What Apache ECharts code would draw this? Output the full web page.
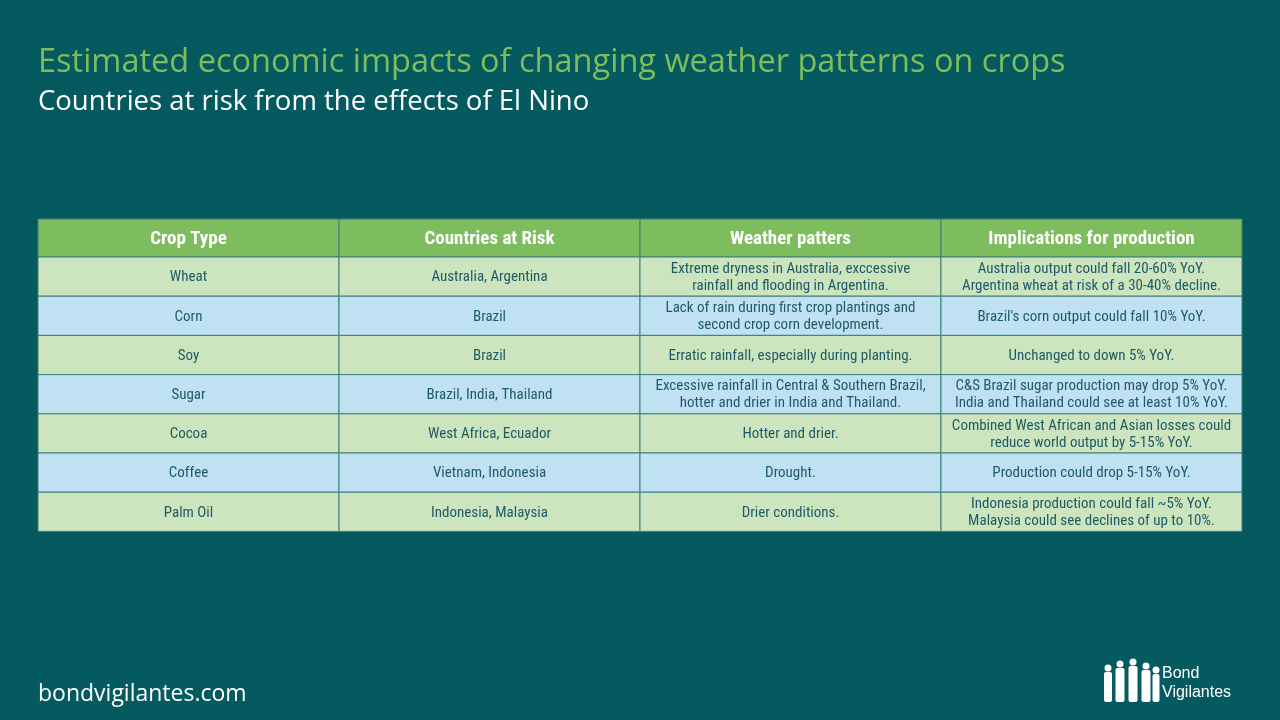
<!DOCTYPE html>
<html>
<head>
<meta charset="utf-8">
<script src="https://cdn.jsdelivr.net/npm/echarts@6/dist/echarts.min.js"></script>
<style>
  html, body { margin: 0; padding: 0; background: #055a5f; }
  #container { width: 1280px; height: 720px; }
</style>
</head>
<body>
<div id="container"></div>
<script>
// 表格数据
const header = ['Crop Type', 'Countries at Risk', 'Weather patters', 'Implications for production'];
const rows = [
  ['Wheat', 'Australia, Argentina', 'Extreme dryness in Australia, exccessive\nrainfall and flooding in Argentina.', 'Australia output could fall 20-60% YoY.\nArgentina wheat at risk of a 30-40% decline.'],
  ['Corn', 'Brazil', 'Lack of rain during first crop plantings and\nsecond crop corn development.', "Brazil's corn output could fall 10% YoY."],
  ['Soy', 'Brazil', 'Erratic rainfall, especially during planting.', 'Unchanged to down 5% YoY.'],
  ['Sugar', 'Brazil, India, Thailand', 'Excessive rainfall in Central & Southern Brazil,\nhotter and drier in India and Thailand.', 'C&S Brazil sugar production may drop 5% YoY.\nIndia and Thailand could see at least 10% YoY.'],
  ['Cocoa', 'West Africa, Ecuador', 'Hotter and drier.', 'Combined West African and Asian losses could\nreduce world output by 5-15% YoY.'],
  ['Coffee', 'Vietnam, Indonesia', 'Drought.', 'Production could drop 5-15% YoY.'],
  ['Palm Oil', 'Indonesia, Malaysia', 'Drier conditions.', 'Indonesia production could fall ~5% YoY.\nMalaysia could see declines of up to 10%.']
];

const tableLeft = 38, tableTop = 219, colW = 301, headH = 38, rowH = 39.2;
const font = '"Liberation Sans Narrow", "Roboto Condensed", "DejaVu Sans Condensed", sans-serif';

function buildTable() {
  const els = [];
  header.forEach((h, c) => {
    els.push({ type: 'rect', shape: { x: tableLeft + c * colW, y: tableTop, width: colW, height: headH },
      style: { fill: '#7dbd5d', stroke: '#3f7f78', lineWidth: 1 } });
    els.push({ type: 'text', x: tableLeft + c * colW + colW / 2, y: tableTop + headH / 2 + 1,
      style: { text: h, fill: '#ffffff', font: 'bold 19px ' + font, align: 'center', verticalAlign: 'middle' } });
  });
  rows.forEach((r, i) => {
    const y = tableTop + headH + i * rowH;
    r.forEach((cell, c) => {
      els.push({ type: 'rect', shape: { x: tableLeft + c * colW, y: y, width: colW, height: rowH },
        style: { fill: i % 2 === 0 ? '#cce5be' : '#bfe1f2', stroke: '#3f7f78', lineWidth: 1 } });
      els.push({ type: 'text', x: tableLeft + c * colW + colW / 2, y: y + rowH / 2 + 1,
        style: { text: cell, fill: '#1f5a66', font: '15px ' + font, lineHeight: 17, align: 'center', verticalAlign: 'middle' } });
    });
  });
  return els;
}

function buildLogo() {
  const els = [];
  const people = [[1108, 668, 8], [1120, 664, 9], [1133, 662, 9], [1146, 666, 9], [1156, 670, 7]];
  people.forEach(p => {
    els.push({ type: 'circle', shape: { cx: p[0], cy: p[1], r: 3.5 }, style: { fill: '#fff' } });
    els.push({ type: 'rect', shape: { x: p[0] - p[2] / 2, y: p[1] + 4, width: p[2], height: 36 - (p[1] - 662), r: 2 }, style: { fill: '#fff' } });
  });
  els.push({ type: 'text', x: 1162, y: 664, style: { text: 'Bond\nVigilantes', fill: '#fff', font: '16px "Liberation Sans", sans-serif', lineHeight: 19 } });
  return els;
}

const myChart = echarts.init(document.getElementById('container'));
myChart.setOption({
  backgroundColor: '#055a5f',
  title: [
    { text: 'Estimated economic impacts of changing weather patterns on crops', left: 33, top: 41,
      textStyle: { color: '#7dbd5d', fontSize: 32.5, fontWeight: 'normal', fontFamily: 'Open Sans' } },
    { text: 'Countries at risk from the effects of El Nino', left: 33, top: 83,
      textStyle: { color: '#ffffff', fontSize: 27.5, fontWeight: 'normal', fontFamily: 'Open Sans' } },
    { text: 'bondvigilantes.com', left: 33, top: 678,
      textStyle: { color: '#ffffff', fontSize: 23, fontWeight: 'normal', fontFamily: 'Open Sans' } }
  ],
  graphic: buildTable().concat(buildLogo())
});
</script>
</body>
</html>
